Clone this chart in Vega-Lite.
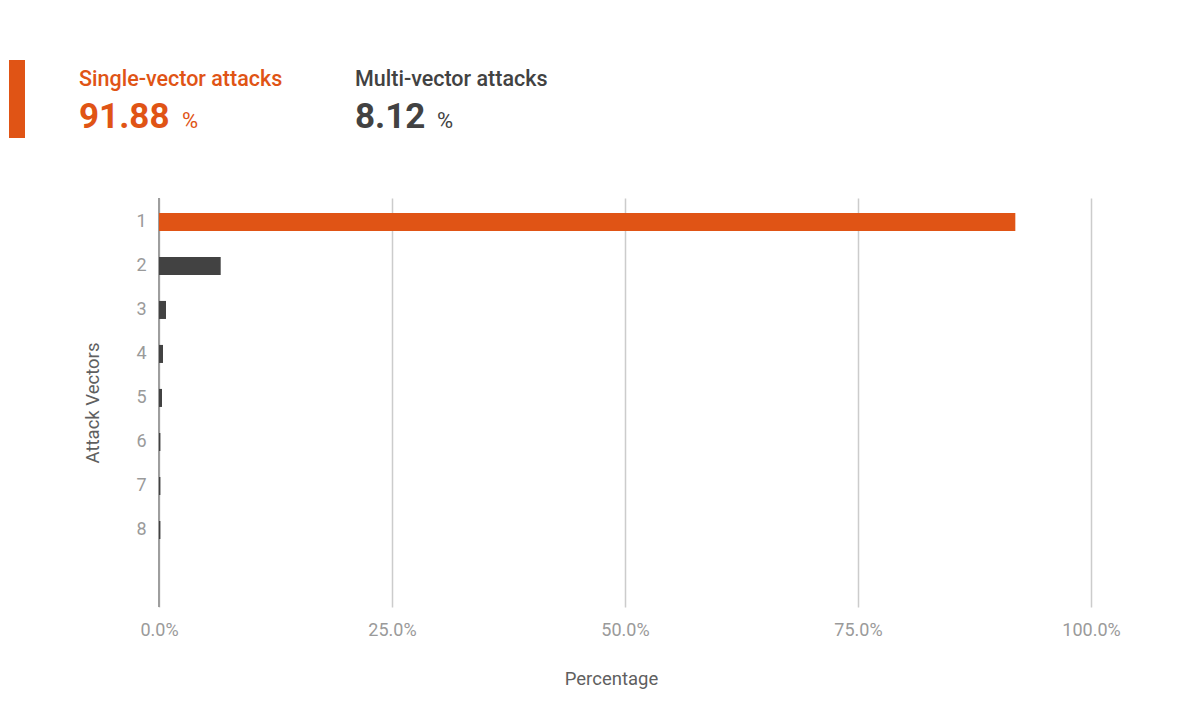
{
  "$schema": "https://vega.github.io/schema/vega-lite/v6.json",
  "background": "white",
  "padding": {"left": 9, "top": 52, "right": 10, "bottom": 10},
  "bounds": "flush",
  "spacing": 60,
  "config": {
    "font": "Roboto",
    "view": {"stroke": null}
  },
  "datasets": {
    "header": [
      {"group": "Single-vector attacks", "pct": 91.88},
      {"group": "Multi-vector attacks", "pct": 8.12}
    ],
    "vectors": [
      {"vectors": "1", "share": 0.9188, "kind": "Single-vector attacks"},
      {"vectors": "2", "share": 0.0662, "kind": "Multi-vector attacks"},
      {"vectors": "3", "share": 0.0075, "kind": "Multi-vector attacks"},
      {"vectors": "4", "share": 0.0043, "kind": "Multi-vector attacks"},
      {"vectors": "5", "share": 0.0032, "kind": "Multi-vector attacks"},
      {"vectors": "6", "share": 0.0015, "kind": "Multi-vector attacks"},
      {"vectors": "7", "share": 0.0015, "kind": "Multi-vector attacks"},
      {"vectors": "8", "share": 0.0015, "kind": "Multi-vector attacks"}
    ]
  },
  "vconcat": [
    {
      "width": 932,
      "height": 78,
      "data": {"name": "header"},
      "layer": [
        {
          "transform": [{"filter": "datum.group == 'Single-vector attacks'"}],
          "mark": {"type": "rule", "strokeWidth": 16, "color": "#e05415"},
          "encoding": {
            "x": {"field": "group", "type": "nominal", "axis": null,
                  "scale": {"type": "point", "padding": 0, "domain": ["Single-vector attacks", "Multi-vector attacks"], "range": [-142, 134]}}
          }
        },
        {
          "mark": {"type": "text", "align": "left", "baseline": "alphabetic", "fontSize": 21.5, "fontWeight": 500, "dy": -13},
          "encoding": {
            "x": {"field": "group", "type": "nominal", "axis": null,
                  "scale": {"type": "point", "padding": 0, "domain": ["Single-vector attacks", "Multi-vector attacks"], "range": [-80, 196]}},
            "text": {"field": "group"},
            "color": {"field": "group", "type": "nominal", "legend": null,
                      "scale": {"domain": ["Single-vector attacks", "Multi-vector attacks"], "range": ["#e05415", "#424242"]}}
          }
        },
        {
          "mark": {"type": "text", "align": "left", "baseline": "alphabetic", "fontSize": 35, "fontWeight": "bold", "dy": 29},
          "encoding": {
            "x": {"field": "group", "type": "nominal", "axis": null,
                  "scale": {"type": "point", "padding": 0, "domain": ["Single-vector attacks", "Multi-vector attacks"], "range": [-80, 196]}},
            "text": {"field": "pct", "type": "quantitative", "format": ".2f"},
            "color": {"field": "group", "type": "nominal", "legend": null,
                      "scale": {"domain": ["Single-vector attacks", "Multi-vector attacks"], "range": ["#e05415", "#424242"]}}
          }
        },
        {
          "mark": {"type": "text", "align": "left", "baseline": "alphabetic", "fontSize": 22, "fontWeight": "normal", "dy": 29, "text": "%"},
          "encoding": {
            "x": {"field": "group", "type": "nominal", "axis": null,
                  "scale": {"type": "point", "padding": 0, "domain": ["Single-vector attacks", "Multi-vector attacks"], "range": [23, 278]}},
            "color": {"field": "group", "type": "nominal", "legend": null,
                      "scale": {"domain": ["Single-vector attacks", "Multi-vector attacks"], "range": ["#e05415", "#424242"]}}
          }
        }
      ],
      "resolve": {"scale": {"x": "independent"}}
    },
    {
      "width": 932,
      "height": 409,
      "data": {"name": "vectors"},
      "layer": [
        {
          "mark": {"type": "rule", "color": "#9e9e9e", "strokeWidth": 1.5},
          "encoding": {"x": {"datum": 0}}
        },
        {
          "mark": {"type": "bar"},
          "encoding": {
            "y": {
              "field": "vectors", "type": "ordinal", "sort": null, "title": "Attack Vectors",
              "scale": {"paddingInner": 0.59, "paddingOuter": 0.943, "align": 0.18},
              "axis": {
                "ticks": false, "domain": false, "grid": false,
                "labelFontSize": 18, "labelColor": "#9a9a9a", "labelPadding": 13,
                "titleFontSize": 18.5, "titleFontWeight": "normal", "titleColor": "#5f5f5f", "titlePadding": 33
              }
            },
            "x": {
              "field": "share", "type": "quantitative", "title": "Percentage",
              "scale": {"domain": [0, 1]},
              "axis": {
                "values": [0, 0.25, 0.5, 0.75, 1], "format": ".1%", "labelFlush": false,
                "ticks": false, "domain": false, "grid": true,
                "gridColor": "#cccccc", "gridWidth": 1.5,
                "labelFontSize": 18, "labelColor": "#9a9a9a", "labelPadding": 14,
                "titleFontSize": 18.5, "titleFontWeight": "normal", "titleColor": "#5f5f5f", "titlePadding": 30,
                "titleX": 452
              }
            },
            "color": {"field": "kind", "type": "nominal", "legend": null,
                      "scale": {"domain": ["Single-vector attacks", "Multi-vector attacks"], "range": ["#e05415", "#424242"]}}
          }
        }
      ]
    }
  ]
}
